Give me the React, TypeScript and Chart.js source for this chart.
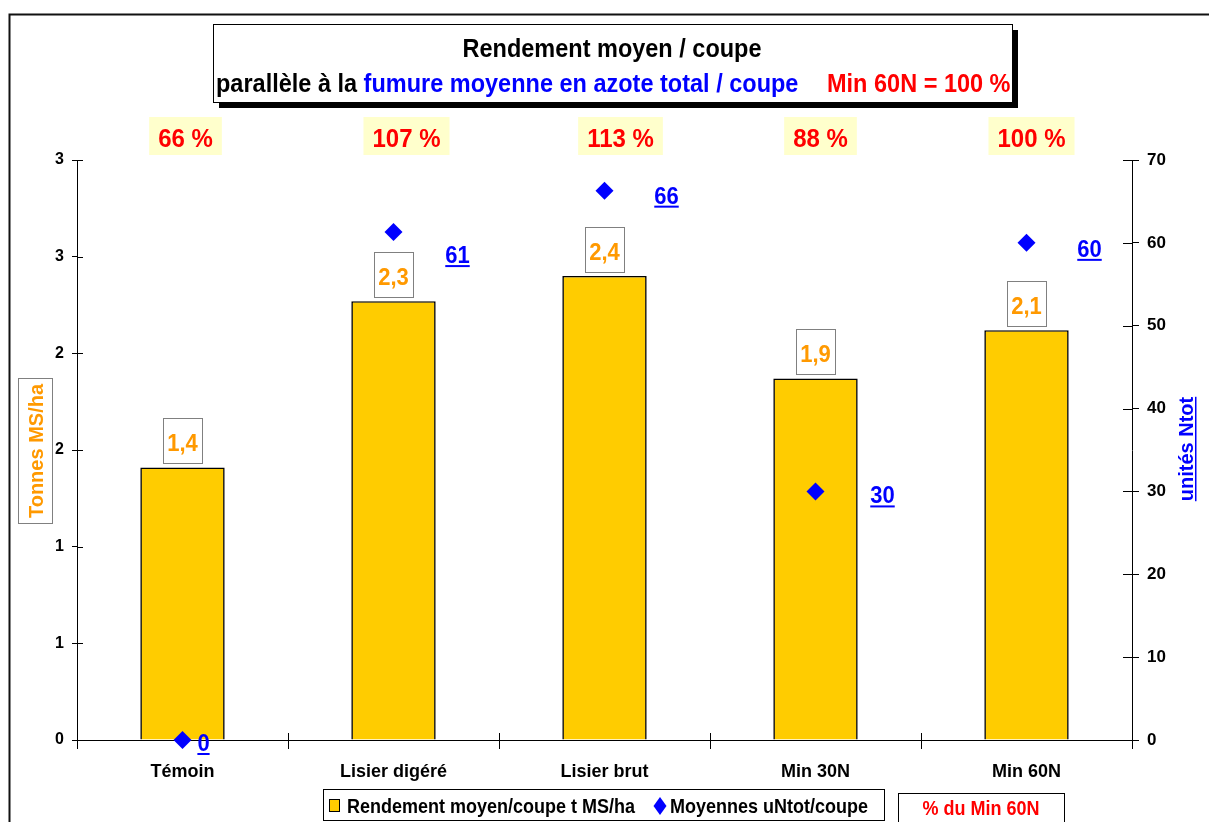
import React, { useEffect, useRef } from 'react';
import { Chart, registerables } from 'chart.js';

Chart.register(...registerables);

const categories = ['Témoin', 'Lisier digéré', 'Lisier brut', 'Min 30N', 'Min 60N'];
const yieldValues = [1.41, 2.27, 2.4, 1.87, 2.12];
const nitrogenValues = [0, 61.3, 66.3, 30, 60];
const percentLabels = ['66 %', '107 %', '113 %', '88 %', '100 %'];
const leftTickLabels = ['0', '1', '1', '2', '2', '3', '3'];
const percentDx = [3, 13, 16, 5, 5];
const pointLabelDx = [21, 64, 62, 67, 63];
const pointLabelDy = [2, 22, 4, 3, 5];

const FONT = "'Liberation Sans', Arial, Helvetica, sans-serif";
const fnt = (size: number) => `bold ${size}px ${FONT}`;

function txt(ctx: CanvasRenderingContext2D, s: string, x: number, y: number, size: number, color: string, align: CanvasTextAlign = 'left', sy = 1.1) {
  ctx.save();
  ctx.font = fnt(size);
  ctx.fillStyle = color;
  ctx.textAlign = align;
  ctx.textBaseline = 'alphabetic';
  ctx.translate(x, y);
  ctx.scale(1, sy);
  ctx.fillText(s, 0, 0);
  const w = ctx.measureText(s).width;
  ctx.restore();
  return w;
}

const decor = {
  id: 'decor',
  afterDraw(chart: any) {
    const ctx: CanvasRenderingContext2D = chart.ctx;
    const xs = chart.scales.x;
    const yL = chart.scales.y;
    const yR = chart.scales.y1;
    const area = chart.chartArea;
    ctx.save();

    // outer frame
    ctx.strokeStyle = '#111';
    ctx.lineWidth = 2;
    ctx.strokeRect(9.5, 14.5, 1400, 1000);

    // inward tick parts
    ctx.strokeStyle = '#000';
    ctx.lineWidth = 1;
    ctx.beginPath();
    yL.ticks.forEach((t: any) => {
      const p = Math.round(yL.getPixelForValue(t.value)) + 0.5;
      ctx.moveTo(area.left, p);
      ctx.lineTo(area.left + 6, p);
    });
    yR.ticks.forEach((t: any) => {
      const p = Math.round(yR.getPixelForValue(t.value)) + 0.5;
      ctx.moveTo(area.right - 9, p);
      ctx.lineTo(area.right, p);
    });
    for (let i = 1; i < categories.length; i++) {
      const p = Math.round((xs.getPixelForValue(i - 1) + xs.getPixelForValue(i)) / 2) + 0.5;
      ctx.moveTo(p, area.bottom - 7);
      ctx.lineTo(p, area.bottom);
    }
    ctx.stroke();

    // title box
    ctx.fillStyle = '#000';
    ctx.fillRect(219, 30, 799, 78);
    ctx.fillStyle = '#fff';
    ctx.fillRect(213, 24, 799, 78);
    ctx.strokeStyle = '#000';
    ctx.lineWidth = 1;
    ctx.strokeRect(213.5, 24.5, 799, 78);
    txt(ctx, 'Rendement moyen / coupe', 612, 57, 23.5, '#000', 'center');
    let x = 216;
    x += txt(ctx, 'parallèle à la ', x, 92, 23.5, '#000');
    txt(ctx, 'fumure moyenne en azote total / coupe', x, 92, 23.5, '#0000FF');
    txt(ctx, 'Min 60N = 100 %', 827, 92, 23.5, '#FF0000');

    // percent boxes
    percentLabels.forEach((s, i) => {
      const cx = xs.getPixelForValue(i) + percentDx[i];
      ctx.font = fnt(24);
      const w = ctx.measureText(s).width + 18;
      ctx.fillStyle = '#FFFFCC';
      ctx.fillRect(cx - w / 2, 117, w, 38);
      txt(ctx, s, cx, 147, 24, '#FF0000', 'center');
    });

    // bar value labels
    const barMeta = chart.getDatasetMeta(1);
    barMeta.data.forEach((el: any, i: number) => {
      const bx = Math.round(el.x - 19.5) + 0.5;
      const by = Math.round(el.y - 4 - 45) + 0.5;
      ctx.fillStyle = '#fff';
      ctx.fillRect(bx, by, 39, 45);
      ctx.strokeStyle = '#808080';
      ctx.lineWidth = 1;
      ctx.strokeRect(bx, by, 39, 45);
      txt(ctx, yieldValues[i].toFixed(1).replace('.', ','), el.x, by + 32, 22, '#FF9900', 'center', 1.12);
    });

    // point labels
    const ptMeta = chart.getDatasetMeta(0);
    ptMeta.data.forEach((el: any, i: number) => {
      const cx = el.x + pointLabelDx[i];
      const base = el.y + pointLabelDy[i] + 9;
      const s = String(Math.round(nitrogenValues[i]));
      const w = txt(ctx, s, cx, base, 22, '#0000FF', 'center', 1.12);
      ctx.fillStyle = '#0000FF';
      ctx.fillRect(cx - w / 2, base + 2, w, 2);
    });

    // left axis title
    ctx.fillStyle = '#fff';
    ctx.fillRect(18.5, 378.5, 34, 145);
    ctx.strokeStyle = '#808080';
    ctx.strokeRect(18.5, 378.5, 34, 145);
    ctx.save();
    ctx.translate(43, 451);
    ctx.rotate(-Math.PI / 2);
    txt(ctx, 'Tonnes MS/ha', 0, 0, 20, '#FF9900', 'center', 1.05);
    ctx.restore();

    // right axis title
    ctx.save();
    ctx.translate(1193, 449);
    ctx.rotate(-Math.PI / 2);
    const rw = txt(ctx, 'unités Ntot', 0, 0, 20, '#0000FF', 'center', 1.05);
    ctx.fillStyle = '#0000FF';
    ctx.fillRect(-rw / 2, 2, rw, 1.5);
    ctx.restore();

    // legend
    ctx.fillStyle = '#fff';
    ctx.fillRect(323.5, 789.5, 561, 31);
    ctx.strokeStyle = '#000';
    ctx.lineWidth = 1;
    ctx.strokeRect(323.5, 789.5, 561, 31);
    ctx.fillStyle = '#FFCC00';
    ctx.fillRect(329.5, 799.5, 10, 12);
    ctx.strokeRect(329.5, 799.5, 10, 12);
    txt(ctx, 'Rendement moyen/coupe t MS/ha', 347, 813, 18, '#000');
    ctx.fillStyle = '#0000FF';
    ctx.beginPath();
    ctx.moveTo(660, 797);
    ctx.lineTo(666.5, 806);
    ctx.lineTo(660, 815);
    ctx.lineTo(653.5, 806);
    ctx.closePath();
    ctx.fill();
    txt(ctx, 'Moyennes uNtot/coupe', 670, 813, 18, '#000');

    // % du Min 60N box
    ctx.fillStyle = '#fff';
    ctx.fillRect(898.5, 793.5, 166, 40);
    ctx.strokeStyle = '#000';
    ctx.strokeRect(898.5, 793.5, 166, 40);
    txt(ctx, '% du Min 60N', 981, 815, 18, '#FF0000', 'center');

    ctx.restore();
  },
};

export default function App() {
  const ref = useRef<HTMLCanvasElement>(null);
  useEffect(() => {
    if (!ref.current) return;
    const tickFont = (size: number) => ({ family: FONT, size, weight: 'bold' as const });
    const chart = new Chart(ref.current, {
      data: {
        labels: categories,
        datasets: [
          {
            type: 'line',
            label: 'Moyennes uNtot/coupe',
            data: nitrogenValues,
            yAxisID: 'y1',
            showLine: false,
            pointStyle: 'rectRot',
            pointRadius: 9,
            pointBackgroundColor: '#0000FF',
            pointBorderColor: '#0000FF',
            pointBorderWidth: 0,
            order: 1,
            clip: false,
          } as any,
          {
            type: 'bar',
            label: 'Rendement moyen/coupe t MS/ha',
            data: yieldValues,
            yAxisID: 'y',
            backgroundColor: '#FFCC00',
            borderColor: '#000',
            borderWidth: 1.6,
            barPercentage: 0.4,
            categoryPercentage: 1,
            order: 2,
          } as any,
        ],
      },
      options: {
        responsive: false,
        animation: false,
        devicePixelRatio: 1,
        layout: { padding: { top: 160, left: 0, right: 0, bottom: 0 } },
        plugins: { legend: { display: false }, tooltip: { enabled: false }, title: { display: false } },
        scales: {
          x: {
            type: 'category',
            grid: { drawOnChartArea: false, color: '#000', tickLength: 9, offset: true },
            border: { color: '#000' },
            ticks: { font: tickFont(18), color: '#000', padding: 12, maxRotation: 0, autoSkip: false },
            afterFit: (s: any) => { s.height = 82; },
          },
          y: {
            type: 'linear',
            position: 'left',
            min: 0,
            max: 3,
            grid: { drawOnChartArea: false, color: '#000', tickLength: 5 },
            border: { color: '#000' },
            ticks: {
              stepSize: 0.5,
              font: tickFont(16),
              color: '#000',
              padding: 8,
              callback: (_v: any, i: number) => leftTickLabels[i],
            },
            afterFit: (s: any) => { s.width = 77; },
          },
          y1: {
            type: 'linear',
            position: 'right',
            min: 0,
            max: 70,
            grid: { drawOnChartArea: false, color: '#000', tickLength: 7 },
            border: { color: '#000' },
            ticks: { stepSize: 10, font: tickFont(17), color: '#000', padding: 8 },
            afterFit: (s: any) => { s.width = 77; },
          },
        },
      },
      plugins: [decor],
    });
    return () => chart.destroy();
  }, []);
  return (
    <div style={{ position: 'absolute', left: 0, top: 0, width: 1209, height: 822, background: '#fff' }}>
      <canvas ref={ref} width={1209} height={822} style={{ display: 'block' }} />
    </div>
  );
}
